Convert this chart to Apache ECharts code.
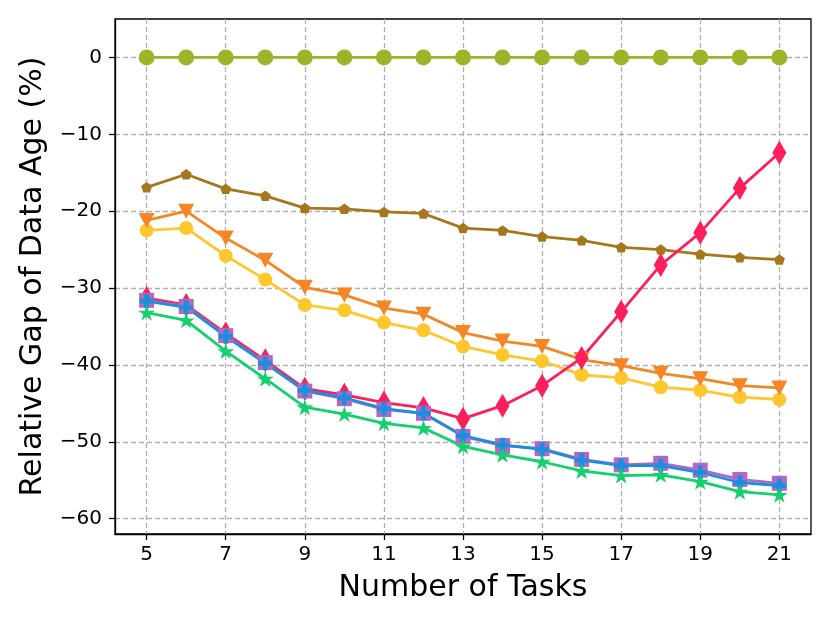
<!DOCTYPE html>
<html>
<head>
<meta charset="utf-8">
<script src="https://cdn.jsdelivr.net/npm/echarts@6/dist/echarts.min.js"></script>
<style>html,body{margin:0;padding:0;background:#fff}#c{width:830px;height:623px}</style>
</head>
<body>
<div id="c"></div>
<script>
const tasks = [5,6,7,8,9,10,11,12,13,14,15,16,17,18,19,20,21];
const xTicks = [5,7,9,11,13,15,17,19,21];
const yTicks = [-60,-50,-40,-30,-20,-10,0];
const olive  = [0,0,0,0,0,0,0,0,0,0,0,0,0,0,0,0,0];
const brown  = [-16.9,-15.2,-17.1,-18.0,-19.6,-19.7,-20.1,-20.3,-22.2,-22.5,-23.3,-23.8,-24.7,-25.0,-25.6,-26.0,-26.3];
const yellow = [-22.5,-22.2,-25.8,-28.9,-32.2,-32.9,-34.5,-35.5,-37.6,-38.7,-39.5,-41.3,-41.7,-42.9,-43.3,-44.2,-44.5];
const orange = [-21.2,-20.0,-23.5,-26.4,-29.9,-30.9,-32.6,-33.4,-35.8,-36.9,-37.6,-39.3,-40.1,-41.1,-41.8,-42.7,-43.0];
const red    = [-31.3,-32.2,-35.9,-39.4,-43.1,-43.9,-44.9,-45.6,-47.0,-45.3,-42.7,-39.1,-33.1,-27.0,-22.8,-17.0,-12.4];
const purple = [-31.6,-32.4,-36.2,-39.7,-43.4,-44.4,-45.8,-46.3,-49.3,-50.5,-50.9,-52.3,-53.0,-52.8,-53.7,-54.9,-55.4];
const blue   = [-31.7,-32.5,-36.3,-39.8,-43.3,-44.3,-45.7,-46.3,-49.2,-50.4,-51.0,-52.4,-53.1,-53.1,-54.0,-55.3,-55.7];
const green  = [-33.2,-34.2,-38.2,-41.8,-45.5,-46.4,-47.6,-48.2,-50.6,-51.7,-52.6,-53.8,-54.4,-54.3,-55.2,-56.5,-56.9];

const pentagon = 'path://M0,-1 L0.951,-0.309 L0.588,0.809 L-0.588,0.809 L-0.951,-0.309 Z';
const star = 'path://M0,-1 L0.2245,-0.309 L0.951,-0.309 L0.363,0.118 L0.588,0.809 L0,0.382 L-0.588,0.809 L-0.363,0.118 L-0.951,-0.309 L-0.2245,-0.309 Z';
const plus = 'path://M1,0 L2,0 L2,1 L3,1 L3,2 L2,2 L2,3 L1,3 L1,2 L0,2 L0,1 L1,1 Z';

function mk(name, vals, color, symbol, size, rot) {
  return {
    name: name, type: 'line',
    data: tasks.map((t, i) => [t, vals[i]]),
    symbol: symbol, symbolSize: size, symbolRotate: rot || 0,
    showAllSymbol: true,
    lineStyle: {color: color, width: 2.8},
    itemStyle: {color: color, opacity: 1},
    emphasis: {disabled: true},
    animation: false
  };
}
const fmt = v => String(v).replace('-', '\u2212');
const chart = echarts.init(document.getElementById('c'));
chart.setOption({
  animation: false,
  grid: {left: 115, top: 19, right: 19, bottom: 89, show: true, borderColor: '#000', borderWidth: 1.3, backgroundColor: 'transparent'},
  xAxis: {
    type: 'value', min: 4.2, max: 21.8,
    name: 'Number of Tasks', nameLocation: 'middle', nameGap: 39,
    nameTextStyle: {fontFamily: 'DejaVu Sans', fontSize: 30, color: '#000'},
    axisLine: {show: true, onZero: false, lineStyle: {color: '#000', width: 1.3}},
    axisTick: {show: true, inside: false, length: 6, customValues: xTicks, lineStyle: {color: '#000', width: 1.3}},
    axisLabel: {customValues: xTicks, margin: 11, fontFamily: 'DejaVu Sans', fontSize: 20, color: '#000', formatter: fmt},
    splitLine: {show: true, customValues: xTicks, lineStyle: {color: '#b0b0b0', width: 1.3, type: [5, 3]}}
  },
  yAxis: {
    type: 'value', min: -62, max: 5,
    name: 'Relative Gap of Data Age (%)', nameLocation: 'middle', nameGap: 67, nameRotate: 90,
    nameTextStyle: {fontFamily: 'DejaVu Sans', fontSize: 30, color: '#000'},
    axisLine: {show: true, onZero: false, lineStyle: {color: '#000', width: 1.3}},
    axisTick: {show: true, inside: false, length: 6, customValues: yTicks, lineStyle: {color: '#000', width: 1.3}},
    axisLabel: {customValues: yTicks, margin: 13, fontFamily: 'DejaVu Sans', fontSize: 20, color: '#000', formatter: fmt},
    splitLine: {show: true, customValues: yTicks, lineStyle: {color: '#b0b0b0', width: 1.3, type: [5, 3]}}
  },
  series: [
    mk('S1', olive, '#9cb429', 'circle', 16),
    mk('S2', brown, '#a6761d', pentagon, [11, 10.5]),
    mk('S3', yellow, '#ffc72e', 'circle', 14),
    mk('S4', orange, '#f58625', 'triangle', [16, 15], 180),
    mk('S5', red, '#ff1f5b', 'diamond', [14, 24]),
    mk('S6', purple, '#b468c4', 'rect', 15),
    mk('S7', blue, '#1890de', plus, 14),
    mk('S8', green, '#14d06e', star, [17, 16])
  ]
});
</script>
</body>
</html>
